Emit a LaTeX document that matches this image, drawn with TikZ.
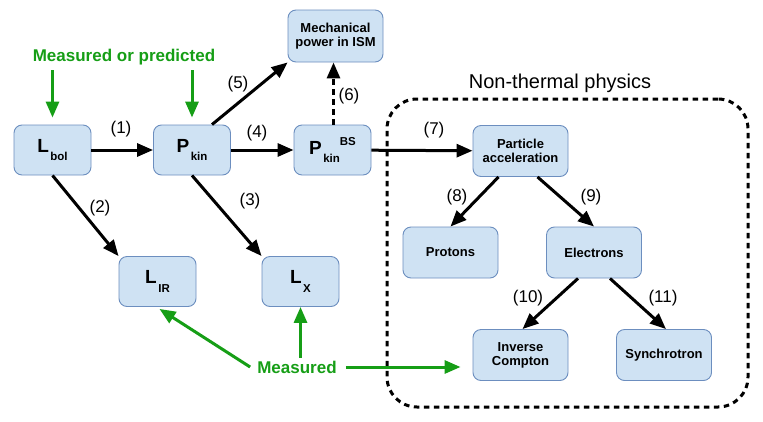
\documentclass[tikz,border=0pt]{standalone}
\usepackage{fontspec}
\setmainfont{Liberation Sans}
\usetikzlibrary{arrows.meta,calc}
\definecolor{boxfill}{RGB}{207,226,243}
\definecolor{boxdraw}{RGB}{108,142,191}
\definecolor{mgreen}{RGB}{22,158,22}
\newcommand{\bigsym}[2]{{\fontsize{19}{19}\selectfont #1}\hspace{1.5pt}\raisebox{-8.5pt}{\fontsize{11.5}{11.5}\selectfont #2}}
\begin{document}
\begin{tikzpicture}[x=1pt,y=-1pt,
  box/.style={draw=boxdraw, fill=boxfill, rounded corners=8pt, line width=0.9pt,
    minimum width=77pt, minimum height=50pt, align=center, inner sep=2pt,
    font=\fontsize{13}{14}\selectfont\bfseries},
  wbox/.style={box, minimum width=95pt, minimum height=51pt},
  arr/.style={line width=3pt, -{Triangle[length=16pt,width=13pt]}},
  garr/.style={arr, color=mgreen},
  num/.style={font=\fontsize{17}{17}\selectfont, inner sep=1pt},
  gtext/.style={text=mgreen, font=\fontsize{17}{17}\selectfont\bfseries, inner sep=3pt},
  region/.style={draw, line width=3pt, dash pattern=on 5.5pt off 4.5pt, rounded corners=30pt,
    minimum width=361pt, minimum height=308pt, inner sep=0pt}
]
\useasboundingbox (0,0) rectangle (763,421);

% region
\node[region] (reg) at (567.5,253) {};
\node[font=\fontsize{20}{20}\selectfont] (regtitle) at (560,83) {Non-thermal physics};

% boxes
\node[box] (lbol) at (52.5,150) {\bigsym{L}{bol}};
\node[box] (pkin) at (192,150) {\bigsym{P}{kin}};
\node[box] (pbs) at (332.5,150) {\bigsym{P}{kin}\raisebox{9pt}{\fontsize{11.5}{11.5}\selectfont BS}};
\node[wbox, minimum height=52pt] (mech) at (335.5,36) {Mechanical\\power in ISM};
\node[box] (lir) at (157.5,281.5) {\bigsym{L}{IR}};
\node[box] (lx) at (300.5,281.5) {\bigsym{L}{X}};
\node[wbox] (pa) at (520.5,151) {Particle\\acceleration};
\node[wbox] (prot) at (450.5,252.5) {Protons};
\node[wbox] (el) at (594,252.5) {Electrons};
\node[wbox] (ic) at (520.5,355) {Inverse\\Compton};
\node[wbox] (sync) at (664,355) {Synchrotron};

% green texts
\node[gtext] (mop) at (124,57) {Measured or predicted};
\node[gtext] (meas) at (297,367) {Measured};

% black arrows
\draw[arr] (lbol) -- (pkin);
\draw[arr] (pkin) -- (pbs);
\draw[arr] (pbs) -- (pa);
\draw[arr] (lbol.south) -- (lir.north west);
\draw[arr] (pkin.south) -- (lx.north west);
\draw[arr] ([xshift=20pt]pkin.north) -- (mech.south west);
\draw[arr, dash pattern=on 6pt off 4pt] ([xshift=1pt]pbs.north) -- ([xshift=1pt]pbs.north |- mech.south);
\draw[arr] ([xshift=-22pt]pa.south) -- (prot.north);
\draw[arr] ([xshift=17pt]pa.south) -- (el.north);
\draw[arr] ([xshift=-16pt]el.south) -- ([xshift=2pt]ic.north);
\draw[arr] ([xshift=16pt]el.south) -- ([xshift=2pt]sync.north);

% numbers
\node[num] (n1) at (121,129) {(1)};
\node[num] (n2) at (100,208) {(2)};
\node[num] (n3) at (250,201) {(3)};
\node[num] (n4) at (257,133) {(4)};
\node[num] (n5) at (238,84) {(5)};
\node[num] (n6) at (349,96) {(6)};
\node[num] (n7) at (434,130) {(7)};
\node[num] (n8) at (457,197) {(8)};
\node[num] (n9) at (591,197) {(9)};
\node[num] (n10) at (528,298) {(10)};
\node[num] (n11) at (663,298) {(11)};

% green arrows
\coordinate (g1) at (52.5,70);
\coordinate (g2) at (192,70);
\draw[garr] (g1) -- ([yshift=7pt]lbol.north);
\draw[garr] (g2) -- ([yshift=7pt]pkin.north);
\draw[garr] ([xshift=-4pt]meas.west) -- ([xshift=2pt,yshift=-2pt]lir.south);
\draw[garr] (meas.north -| lx.south) -- (lx.south);
\draw[garr] ([xshift=6pt]meas.east) -- ($(ic.west |- meas.east)+(-12,0)$);
\end{tikzpicture}
\end{document}
